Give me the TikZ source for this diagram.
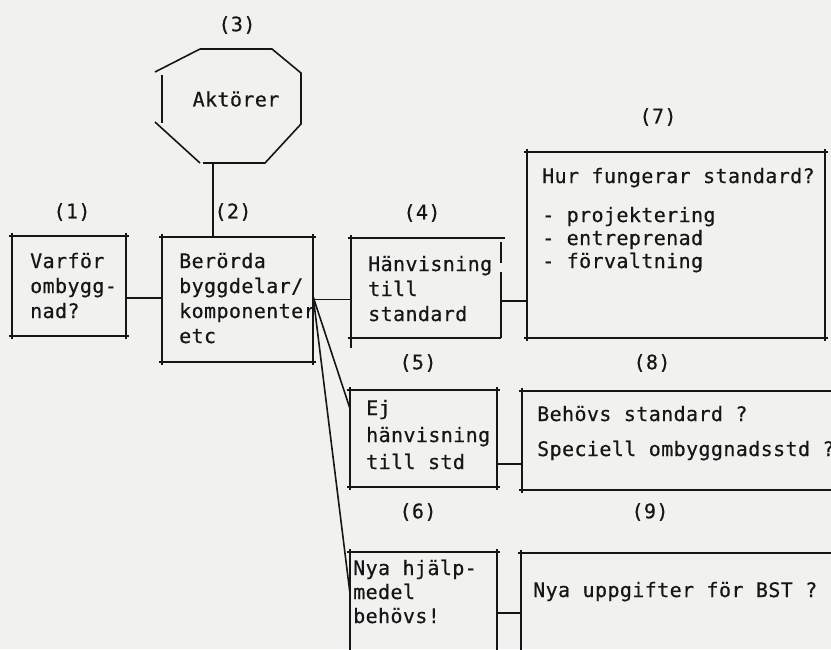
\documentclass[tikz,border=0pt]{standalone}
\usepackage{fontspec}
\newfontfamily\tw{DejaVu Sans Mono}[LetterSpace=2.0,FakeBold=0.5]
\definecolor{bg}{RGB}{241,241,239}
\definecolor{ink}{RGB}{22,22,22}
\newcommand\ovbox[1]{%
  \draw[ln] ([xshift=-3pt]#1.north west) -- ([xshift=3pt]#1.north east);
  \draw[ln] ([xshift=-3pt]#1.south west) -- ([xshift=3pt]#1.south east);
  \draw[ln] ([yshift=3pt]#1.north west) -- ([yshift=-3pt]#1.south west);
  \draw[ln] ([yshift=3pt]#1.north east) -- ([yshift=-3pt]#1.south east);}
\begin{document}
\begin{tikzpicture}[x=1pt,y=-1pt,
  ln/.style={draw=ink,line width=1.6pt},
  bx/.style={draw=none,inner sep=0pt},
  txt/.style={anchor=base west,inner sep=0pt,text=ink,font=\tw\fontsize{20}{25}\selectfont},
  lab/.style={inner sep=0pt,text=ink,font=\tw\fontsize{20}{25}\selectfont}]
\path[use as bounding box,fill=bg] (0,0) rectangle (831,649);
\clip (0,0) rectangle (831,649);

% boxes
\node[bx,minimum width=114pt,minimum height=100pt] (b1) at (69,286) {};
\node[bx,minimum width=151pt,minimum height=125pt] (b2) at (237.5,299.5) {};
\node[bx,minimum width=150pt,minimum height=100pt] (b4) at (426,288) {};
\node[bx,minimum width=298pt,minimum height=186pt] (b7) at (676,245) {};
\node[bx,minimum width=147pt,minimum height=97pt] (b5) at (423.5,438.5) {};
\node[bx,minimum width=328pt,minimum height=99pt] (b8) at (686,440.5) {};
\node[bx,minimum width=147pt,minimum height=118pt] (b6) at (423.5,611) {};
\node[bx,minimum width=329pt,minimum height=117pt] (b9) at (685.5,611.5) {};

\ovbox{b1}
\ovbox{b2}
\ovbox{b7}
\ovbox{b5}
\ovbox{b8}
\ovbox{b6}
\ovbox{b9}
% box 4 with broken right side
\draw[ln] ([xshift=-3pt]b4.north west) -- ([xshift=4pt]b4.north east);
\draw[ln] ([xshift=-3pt]b4.south west) -- (b4.south east);
\draw[ln] ([yshift=3pt]b4.north west) -- ([yshift=-10pt]b4.south west);
\draw[ln] ([yshift=-4pt]b4.north east) -- ([yshift=-25pt]b4.north east);
\draw[ln] ([yshift=-34pt]b4.north east) -- (b4.south east);

% octagon (3)
\node[lab] (akt) at (236,99) {Aktörer};
\draw[ln] (200,49) -- (272,49) -- (301,73) -- (301,124) -- (265,163) -- (203,163);
\draw[ln] (155,122) -- (200,163);
\draw[ln] (155,72) -- (200,49);
\draw[ln] (162,75) -- (162,123);
\coordinate (oct) at (213,163);

% labels
\node[lab] (l1) at (72,212) {(1)};
\node[lab] (l2) at (233,212) {(2)};
\node[lab] (l3) at (237,25) {(3)};
\node[lab] (l4) at (422,213) {(4)};
\node[lab] (l5) at (418,363) {(5)};
\node[lab] (l6) at (418,512) {(6)};
\node[lab] (l7) at (658,117) {(7)};
\node[lab] (l8) at (652,363) {(8)};
\node[lab] (l9) at (650,512) {(9)};

% texts
\node[txt] (t1) at (30,268) {\vtop{\hbox{Varför}\hbox{ombygg-}\hbox{nad?}}};
\node[txt] (t2) at (179,268) {\vtop{\hbox{Berörda}\hbox{byggdelar/}\hbox{komponenter}\hbox{etc}}};
\node[txt] (t4) at (368,271) {\vtop{\hbox{Hänvisning}\hbox{till}\hbox{standard}}};
\node[txt] (t7a) at (542,183) {Hur fungerar standard?};
\node[txt] (t7b) at (542,222) {\vtop{\baselineskip=23pt\hbox{- projektering}\hbox{- entreprenad}\hbox{- förvaltning}}};
\node[txt] (t5) at (366,415) {\vtop{\baselineskip=27pt\hbox{Ej}\hbox{hänvisning}\hbox{till std}}};
\node[txt] (t8a) at (537,421) {Behövs standard ?};
\node[txt] (t8b) at (537,456) {Speciell ombyggnadsstd ?};
\node[txt] (t6) at (353,575) {\vtop{\baselineskip=24pt\hbox{Nya hjälp-}\hbox{medel}\hbox{behövs!}}};
\node[txt] (t9) at (533,597) {Nya uppgifter för BST ?};

% connectors
\draw[ln] (oct) -- (oct |- b2.north);
\draw[ln] ([yshift=-12pt]b1.east) -- ([yshift=-12pt]b1.east -| b2.west);
\draw[ln] (b2.east) -- (b2.east -| b4.west);
\draw[ln] ([yshift=-13pt]b4.east) -- ([yshift=-13pt]b4.east -| b7.west);
\draw[ln] ([yshift=2.5pt]b2.east) -- ([yshift=30.5pt]b5.west);
\draw[ln] ([yshift=2.5pt]b2.east) -- ([yshift=19pt]b6.west);
\draw[ln] ([yshift=-25.5pt]b5.east) -- ([yshift=-25.5pt]b5.east -| b8.west);
\draw[ln] ([yshift=-2pt]b6.east) -- ([yshift=-2pt]b6.east -| b9.west);
\end{tikzpicture}
\end{document}
